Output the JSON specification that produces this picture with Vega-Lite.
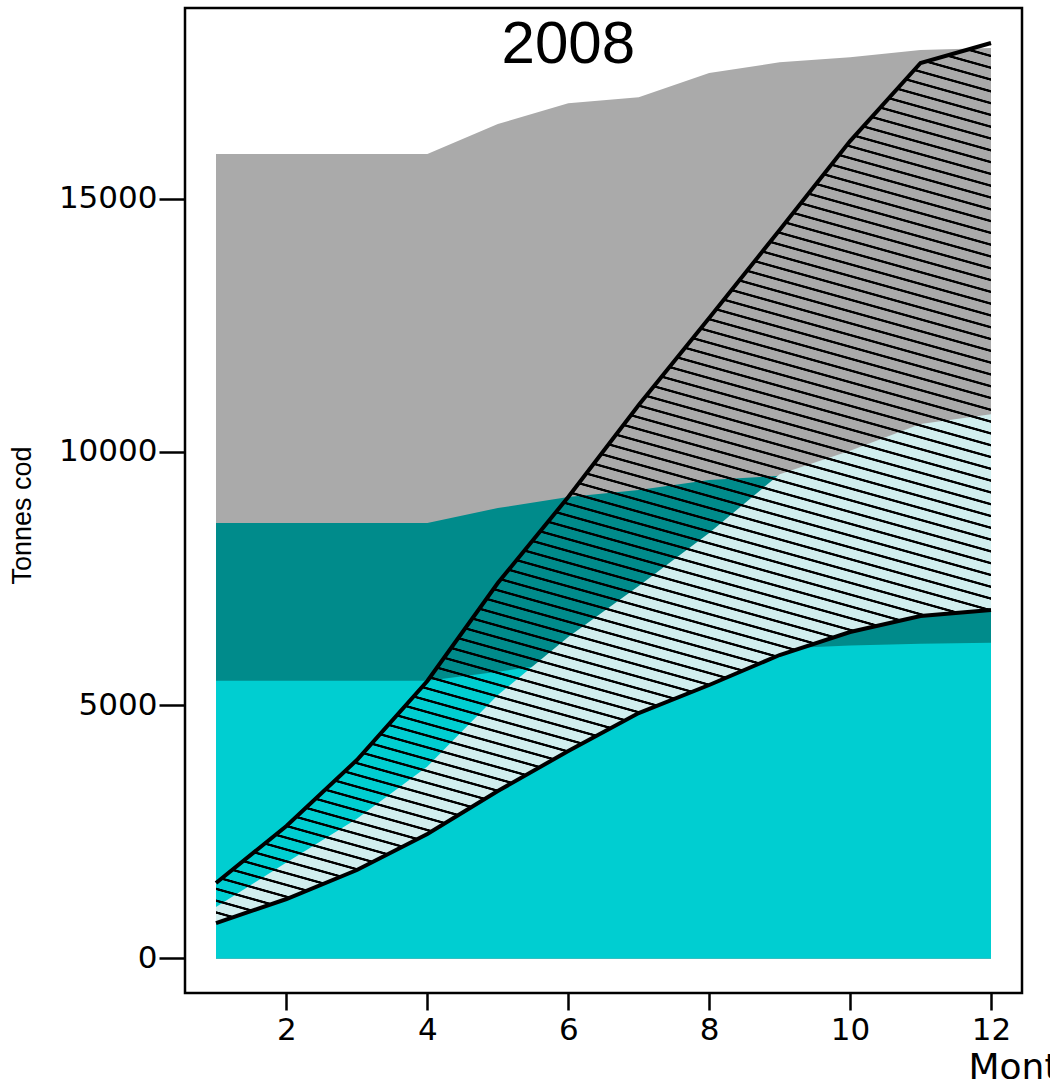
{
  "$schema": "https://vega.github.io/schema/vega-lite/v6.json",
  "autosize": {"type": "none"},
  "padding": {"left": 185, "top": 8, "right": 28, "bottom": 86},
  "width": 837,
  "height": 985,
  "background": "white",
  "data": {"values": [
    {"month": 1, "grey": 15880, "teal": 8595, "cyan": 5480, "mid": 1016, "lower": 700, "upper": 1490},
    {"month": 2, "grey": 15880, "teal": 8595, "cyan": 5480, "mid": 1895, "lower": 1174, "upper": 2615},
    {"month": 3, "grey": 15880, "teal": 8595, "cyan": 5480, "mid": 2760, "lower": 1747, "upper": 3918},
    {"month": 4, "grey": 15880, "teal": 8595, "cyan": 5480, "mid": 3790, "lower": 2457, "upper": 5477},
    {"month": 5, "grey": 16470, "teal": 8890, "cyan": 5660, "mid": 5200, "lower": 3306, "upper": 7411},
    {"month": 6, "grey": 16880, "teal": 9108, "cyan": 5860, "mid": 6345, "lower": 4095, "upper": 9108},
    {"month": 7, "grey": 17000, "teal": 9246, "cyan": 5980, "mid": 7350, "lower": 4845, "upper": 10924},
    {"month": 8, "grey": 17475, "teal": 9443, "cyan": 6060, "mid": 8400, "lower": 5398, "upper": 12641},
    {"month": 9, "grey": 17690, "teal": 9530, "cyan": 6120, "mid": 9560, "lower": 5990, "upper": 14378},
    {"month": 10, "grey": 17790, "teal": 9650, "cyan": 6180, "mid": 10020, "lower": 6444, "upper": 16134},
    {"month": 11, "grey": 17930, "teal": 9750, "cyan": 6210, "mid": 10550, "lower": 6760, "upper": 17674},
    {"month": 12, "grey": 17970, "teal": 9800, "cyan": 6230, "mid": 10740, "lower": 6878, "upper": 18069}
  ]},
  "encoding": {
    "x": {
      "field": "month", "type": "quantitative",
      "scale": {"domain": [0.56, 12.44], "nice": false, "zero": false},
      "axis": {
        "values": [2, 4, 6, 8, 10, 12], "format": "d", "grid": false, "domain": false,
        "labelFont": "DejaVu Sans", "labelFontSize": 31, "labelColor": "black", "labelPadding": 5,
        "labelFlush": false, "labelOverlap": false,
        "tickColor": "black", "tickWidth": 2.5, "tickSize": 17,
        "title": "Month", "titleFont": "DejaVu Sans", "titleFontSize": 36, "titleFontWeight": "normal",
        "titleColor": "black", "titleX": 783, "titleY": 85, "titleAlign": "left", "titleBaseline": "alphabetic"
      }
    }
  },
  "layer": [
    {
      "mark": {"type": "area", "fill": "#AAAAAA", "opacity": 1},
      "encoding": {
        "y": {
          "field": "grey", "type": "quantitative",
          "scale": {"domain": [-681, 18760], "nice": false, "zero": false},
          "axis": {
            "values": [0, 5000, 10000, 15000], "format": "d", "grid": false, "domain": false,
            "labelFont": "DejaVu Sans", "labelFontSize": 31, "labelColor": "black", "labelPadding": 2,
            "labelFlush": false, "labelOverlap": false,
            "tickColor": "black", "tickWidth": 2.5, "tickSize": 26,
            "title": "Tonnes cod", "titleFont": "Liberation Sans", "titleFontSize": 27, "titleFontWeight": "normal",
            "titleColor": "black", "titleX": -163, "titleY": 507, "titleAngle": -90, "titleAlign": "center", "titleBaseline": "middle"
          }
        },
        "y2": {"datum": 0}
      }
    },
    {
      "mark": {"type": "area", "fill": "#008B8B", "opacity": 1},
      "encoding": {
        "y": {"field": "teal", "type": "quantitative", "scale": {"domain": [-681, 18760], "nice": false, "zero": false}},
        "y2": {"datum": 0}
      }
    },
    {
      "mark": {"type": "area", "fill": "#00CED1", "opacity": 1},
      "encoding": {
        "y": {"field": "cyan", "type": "quantitative", "scale": {"domain": [-681, 18760], "nice": false, "zero": false}},
        "y2": {"datum": 0}
      }
    },
    {
      "mark": {"type": "area", "fill": "#D1EEEE", "opacity": 1},
      "encoding": {
        "y": {"field": "mid", "type": "quantitative", "scale": {"domain": [-681, 18760], "nice": false, "zero": false}},
        "y2": {"field": "lower"}
      }
    },
    {
      "mark": {"type": "area", "opacity": 1, "fill": {
        "gradient": "linear", "x1": 1, "y1": 0, "x2": 0.71023, "y2": 1.17513,
        "stops": [
          {"offset": 0, "color": "rgba(0,0,0,0)"}, {"offset": 0.000255, "color": "#000"}, {"offset": 0.001895, "color": "#000"}, {"offset": 0.002535, "color": "rgba(0,0,0,0)"},
          {"offset": 0.010368, "color": "rgba(0,0,0,0)"}, {"offset": 0.011008, "color": "#000"}, {"offset": 0.012648, "color": "#000"}, {"offset": 0.013288, "color": "rgba(0,0,0,0)"},
          {"offset": 0.021121, "color": "rgba(0,0,0,0)"}, {"offset": 0.021761, "color": "#000"}, {"offset": 0.023401, "color": "#000"}, {"offset": 0.024041, "color": "rgba(0,0,0,0)"},
          {"offset": 0.031873, "color": "rgba(0,0,0,0)"}, {"offset": 0.032513, "color": "#000"}, {"offset": 0.034153, "color": "#000"}, {"offset": 0.034793, "color": "rgba(0,0,0,0)"},
          {"offset": 0.042626, "color": "rgba(0,0,0,0)"}, {"offset": 0.043266, "color": "#000"}, {"offset": 0.044906, "color": "#000"}, {"offset": 0.045546, "color": "rgba(0,0,0,0)"},
          {"offset": 0.053379, "color": "rgba(0,0,0,0)"}, {"offset": 0.054019, "color": "#000"}, {"offset": 0.055659, "color": "#000"}, {"offset": 0.056299, "color": "rgba(0,0,0,0)"},
          {"offset": 0.064131, "color": "rgba(0,0,0,0)"}, {"offset": 0.064771, "color": "#000"}, {"offset": 0.066411, "color": "#000"}, {"offset": 0.067051, "color": "rgba(0,0,0,0)"},
          {"offset": 0.074884, "color": "rgba(0,0,0,0)"}, {"offset": 0.075524, "color": "#000"}, {"offset": 0.077164, "color": "#000"}, {"offset": 0.077804, "color": "rgba(0,0,0,0)"},
          {"offset": 0.085637, "color": "rgba(0,0,0,0)"}, {"offset": 0.086277, "color": "#000"}, {"offset": 0.087917, "color": "#000"}, {"offset": 0.088557, "color": "rgba(0,0,0,0)"},
          {"offset": 0.096389, "color": "rgba(0,0,0,0)"}, {"offset": 0.097029, "color": "#000"}, {"offset": 0.098669, "color": "#000"}, {"offset": 0.099309, "color": "rgba(0,0,0,0)"},
          {"offset": 0.107142, "color": "rgba(0,0,0,0)"}, {"offset": 0.107782, "color": "#000"}, {"offset": 0.109422, "color": "#000"}, {"offset": 0.110062, "color": "rgba(0,0,0,0)"},
          {"offset": 0.117895, "color": "rgba(0,0,0,0)"}, {"offset": 0.118535, "color": "#000"}, {"offset": 0.120175, "color": "#000"}, {"offset": 0.120815, "color": "rgba(0,0,0,0)"},
          {"offset": 0.128648, "color": "rgba(0,0,0,0)"}, {"offset": 0.129288, "color": "#000"}, {"offset": 0.130928, "color": "#000"}, {"offset": 0.131568, "color": "rgba(0,0,0,0)"},
          {"offset": 0.139400, "color": "rgba(0,0,0,0)"}, {"offset": 0.140040, "color": "#000"}, {"offset": 0.141680, "color": "#000"}, {"offset": 0.142320, "color": "rgba(0,0,0,0)"},
          {"offset": 0.150153, "color": "rgba(0,0,0,0)"}, {"offset": 0.150793, "color": "#000"}, {"offset": 0.152433, "color": "#000"}, {"offset": 0.153073, "color": "rgba(0,0,0,0)"},
          {"offset": 0.160906, "color": "rgba(0,0,0,0)"}, {"offset": 0.161546, "color": "#000"}, {"offset": 0.163186, "color": "#000"}, {"offset": 0.163826, "color": "rgba(0,0,0,0)"},
          {"offset": 0.171658, "color": "rgba(0,0,0,0)"}, {"offset": 0.172298, "color": "#000"}, {"offset": 0.173938, "color": "#000"}, {"offset": 0.174578, "color": "rgba(0,0,0,0)"},
          {"offset": 0.182411, "color": "rgba(0,0,0,0)"}, {"offset": 0.183051, "color": "#000"}, {"offset": 0.184691, "color": "#000"}, {"offset": 0.185331, "color": "rgba(0,0,0,0)"},
          {"offset": 0.193164, "color": "rgba(0,0,0,0)"}, {"offset": 0.193804, "color": "#000"}, {"offset": 0.195444, "color": "#000"}, {"offset": 0.196084, "color": "rgba(0,0,0,0)"},
          {"offset": 0.203916, "color": "rgba(0,0,0,0)"}, {"offset": 0.204556, "color": "#000"}, {"offset": 0.206196, "color": "#000"}, {"offset": 0.206836, "color": "rgba(0,0,0,0)"},
          {"offset": 0.214669, "color": "rgba(0,0,0,0)"}, {"offset": 0.215309, "color": "#000"}, {"offset": 0.216949, "color": "#000"}, {"offset": 0.217589, "color": "rgba(0,0,0,0)"},
          {"offset": 0.225422, "color": "rgba(0,0,0,0)"}, {"offset": 0.226062, "color": "#000"}, {"offset": 0.227702, "color": "#000"}, {"offset": 0.228342, "color": "rgba(0,0,0,0)"},
          {"offset": 0.236174, "color": "rgba(0,0,0,0)"}, {"offset": 0.236814, "color": "#000"}, {"offset": 0.238454, "color": "#000"}, {"offset": 0.239094, "color": "rgba(0,0,0,0)"},
          {"offset": 0.246927, "color": "rgba(0,0,0,0)"}, {"offset": 0.247567, "color": "#000"}, {"offset": 0.249207, "color": "#000"}, {"offset": 0.249847, "color": "rgba(0,0,0,0)"},
          {"offset": 0.257680, "color": "rgba(0,0,0,0)"}, {"offset": 0.258320, "color": "#000"}, {"offset": 0.259960, "color": "#000"}, {"offset": 0.260600, "color": "rgba(0,0,0,0)"},
          {"offset": 0.268432, "color": "rgba(0,0,0,0)"}, {"offset": 0.269072, "color": "#000"}, {"offset": 0.270712, "color": "#000"}, {"offset": 0.271352, "color": "rgba(0,0,0,0)"},
          {"offset": 0.279185, "color": "rgba(0,0,0,0)"}, {"offset": 0.279825, "color": "#000"}, {"offset": 0.281465, "color": "#000"}, {"offset": 0.282105, "color": "rgba(0,0,0,0)"},
          {"offset": 0.289938, "color": "rgba(0,0,0,0)"}, {"offset": 0.290578, "color": "#000"}, {"offset": 0.292218, "color": "#000"}, {"offset": 0.292858, "color": "rgba(0,0,0,0)"},
          {"offset": 0.300691, "color": "rgba(0,0,0,0)"}, {"offset": 0.301331, "color": "#000"}, {"offset": 0.302971, "color": "#000"}, {"offset": 0.303611, "color": "rgba(0,0,0,0)"},
          {"offset": 0.311443, "color": "rgba(0,0,0,0)"}, {"offset": 0.312083, "color": "#000"}, {"offset": 0.313723, "color": "#000"}, {"offset": 0.314363, "color": "rgba(0,0,0,0)"},
          {"offset": 0.322196, "color": "rgba(0,0,0,0)"}, {"offset": 0.322836, "color": "#000"}, {"offset": 0.324476, "color": "#000"}, {"offset": 0.325116, "color": "rgba(0,0,0,0)"},
          {"offset": 0.332949, "color": "rgba(0,0,0,0)"}, {"offset": 0.333589, "color": "#000"}, {"offset": 0.335229, "color": "#000"}, {"offset": 0.335869, "color": "rgba(0,0,0,0)"},
          {"offset": 0.343701, "color": "rgba(0,0,0,0)"}, {"offset": 0.344341, "color": "#000"}, {"offset": 0.345981, "color": "#000"}, {"offset": 0.346621, "color": "rgba(0,0,0,0)"},
          {"offset": 0.354454, "color": "rgba(0,0,0,0)"}, {"offset": 0.355094, "color": "#000"}, {"offset": 0.356734, "color": "#000"}, {"offset": 0.357374, "color": "rgba(0,0,0,0)"},
          {"offset": 0.365207, "color": "rgba(0,0,0,0)"}, {"offset": 0.365847, "color": "#000"}, {"offset": 0.367487, "color": "#000"}, {"offset": 0.368127, "color": "rgba(0,0,0,0)"},
          {"offset": 0.375959, "color": "rgba(0,0,0,0)"}, {"offset": 0.376599, "color": "#000"}, {"offset": 0.378239, "color": "#000"}, {"offset": 0.378879, "color": "rgba(0,0,0,0)"},
          {"offset": 0.386712, "color": "rgba(0,0,0,0)"}, {"offset": 0.387352, "color": "#000"}, {"offset": 0.388992, "color": "#000"}, {"offset": 0.389632, "color": "rgba(0,0,0,0)"},
          {"offset": 0.397465, "color": "rgba(0,0,0,0)"}, {"offset": 0.398105, "color": "#000"}, {"offset": 0.399745, "color": "#000"}, {"offset": 0.400385, "color": "rgba(0,0,0,0)"},
          {"offset": 0.408217, "color": "rgba(0,0,0,0)"}, {"offset": 0.408857, "color": "#000"}, {"offset": 0.410497, "color": "#000"}, {"offset": 0.411137, "color": "rgba(0,0,0,0)"},
          {"offset": 0.418970, "color": "rgba(0,0,0,0)"}, {"offset": 0.419610, "color": "#000"}, {"offset": 0.421250, "color": "#000"}, {"offset": 0.421890, "color": "rgba(0,0,0,0)"},
          {"offset": 0.429723, "color": "rgba(0,0,0,0)"}, {"offset": 0.430363, "color": "#000"}, {"offset": 0.432003, "color": "#000"}, {"offset": 0.432643, "color": "rgba(0,0,0,0)"},
          {"offset": 0.440475, "color": "rgba(0,0,0,0)"}, {"offset": 0.441115, "color": "#000"}, {"offset": 0.442755, "color": "#000"}, {"offset": 0.443395, "color": "rgba(0,0,0,0)"},
          {"offset": 0.451228, "color": "rgba(0,0,0,0)"}, {"offset": 0.451868, "color": "#000"}, {"offset": 0.453508, "color": "#000"}, {"offset": 0.454148, "color": "rgba(0,0,0,0)"},
          {"offset": 0.461981, "color": "rgba(0,0,0,0)"}, {"offset": 0.462621, "color": "#000"}, {"offset": 0.464261, "color": "#000"}, {"offset": 0.464901, "color": "rgba(0,0,0,0)"},
          {"offset": 0.472734, "color": "rgba(0,0,0,0)"}, {"offset": 0.473374, "color": "#000"}, {"offset": 0.475014, "color": "#000"}, {"offset": 0.475654, "color": "rgba(0,0,0,0)"},
          {"offset": 0.483486, "color": "rgba(0,0,0,0)"}, {"offset": 0.484126, "color": "#000"}, {"offset": 0.485766, "color": "#000"}, {"offset": 0.486406, "color": "rgba(0,0,0,0)"},
          {"offset": 0.494239, "color": "rgba(0,0,0,0)"}, {"offset": 0.494879, "color": "#000"}, {"offset": 0.496519, "color": "#000"}, {"offset": 0.497159, "color": "rgba(0,0,0,0)"},
          {"offset": 0.504992, "color": "rgba(0,0,0,0)"}, {"offset": 0.505632, "color": "#000"}, {"offset": 0.507272, "color": "#000"}, {"offset": 0.507912, "color": "rgba(0,0,0,0)"},
          {"offset": 0.515744, "color": "rgba(0,0,0,0)"}, {"offset": 0.516384, "color": "#000"}, {"offset": 0.518024, "color": "#000"}, {"offset": 0.518664, "color": "rgba(0,0,0,0)"},
          {"offset": 0.526497, "color": "rgba(0,0,0,0)"}, {"offset": 0.527137, "color": "#000"}, {"offset": 0.528777, "color": "#000"}, {"offset": 0.529417, "color": "rgba(0,0,0,0)"},
          {"offset": 0.537250, "color": "rgba(0,0,0,0)"}, {"offset": 0.537890, "color": "#000"}, {"offset": 0.539530, "color": "#000"}, {"offset": 0.540170, "color": "rgba(0,0,0,0)"},
          {"offset": 0.548002, "color": "rgba(0,0,0,0)"}, {"offset": 0.548642, "color": "#000"}, {"offset": 0.550282, "color": "#000"}, {"offset": 0.550922, "color": "rgba(0,0,0,0)"},
          {"offset": 0.558755, "color": "rgba(0,0,0,0)"}, {"offset": 0.559395, "color": "#000"}, {"offset": 0.561035, "color": "#000"}, {"offset": 0.561675, "color": "rgba(0,0,0,0)"},
          {"offset": 0.569508, "color": "rgba(0,0,0,0)"}, {"offset": 0.570148, "color": "#000"}, {"offset": 0.571788, "color": "#000"}, {"offset": 0.572428, "color": "rgba(0,0,0,0)"},
          {"offset": 0.580260, "color": "rgba(0,0,0,0)"}, {"offset": 0.580900, "color": "#000"}, {"offset": 0.582540, "color": "#000"}, {"offset": 0.583180, "color": "rgba(0,0,0,0)"},
          {"offset": 0.591013, "color": "rgba(0,0,0,0)"}, {"offset": 0.591653, "color": "#000"}, {"offset": 0.593293, "color": "#000"}, {"offset": 0.593933, "color": "rgba(0,0,0,0)"},
          {"offset": 0.601766, "color": "rgba(0,0,0,0)"}, {"offset": 0.602406, "color": "#000"}, {"offset": 0.604046, "color": "#000"}, {"offset": 0.604686, "color": "rgba(0,0,0,0)"},
          {"offset": 0.612518, "color": "rgba(0,0,0,0)"}, {"offset": 0.613158, "color": "#000"}, {"offset": 0.614798, "color": "#000"}, {"offset": 0.615438, "color": "rgba(0,0,0,0)"},
          {"offset": 0.623271, "color": "rgba(0,0,0,0)"}, {"offset": 0.623911, "color": "#000"}, {"offset": 0.625551, "color": "#000"}, {"offset": 0.626191, "color": "rgba(0,0,0,0)"},
          {"offset": 0.634024, "color": "rgba(0,0,0,0)"}, {"offset": 0.634664, "color": "#000"}, {"offset": 0.636304, "color": "#000"}, {"offset": 0.636944, "color": "rgba(0,0,0,0)"},
          {"offset": 0.644777, "color": "rgba(0,0,0,0)"}, {"offset": 0.645417, "color": "#000"}, {"offset": 0.647057, "color": "#000"}, {"offset": 0.647697, "color": "rgba(0,0,0,0)"},
          {"offset": 0.655529, "color": "rgba(0,0,0,0)"}, {"offset": 0.656169, "color": "#000"}, {"offset": 0.657809, "color": "#000"}, {"offset": 0.658449, "color": "rgba(0,0,0,0)"},
          {"offset": 0.666282, "color": "rgba(0,0,0,0)"}, {"offset": 0.666922, "color": "#000"}, {"offset": 0.668562, "color": "#000"}, {"offset": 0.669202, "color": "rgba(0,0,0,0)"},
          {"offset": 0.677035, "color": "rgba(0,0,0,0)"}, {"offset": 0.677675, "color": "#000"}, {"offset": 0.679315, "color": "#000"}, {"offset": 0.679955, "color": "rgba(0,0,0,0)"},
          {"offset": 0.687787, "color": "rgba(0,0,0,0)"}, {"offset": 0.688427, "color": "#000"}, {"offset": 0.690067, "color": "#000"}, {"offset": 0.690707, "color": "rgba(0,0,0,0)"},
          {"offset": 0.698540, "color": "rgba(0,0,0,0)"}, {"offset": 0.699180, "color": "#000"}, {"offset": 0.700820, "color": "#000"}, {"offset": 0.701460, "color": "rgba(0,0,0,0)"},
          {"offset": 0.709293, "color": "rgba(0,0,0,0)"}, {"offset": 0.709933, "color": "#000"}, {"offset": 0.711573, "color": "#000"}, {"offset": 0.712213, "color": "rgba(0,0,0,0)"},
          {"offset": 0.720045, "color": "rgba(0,0,0,0)"}, {"offset": 0.720685, "color": "#000"}, {"offset": 0.722325, "color": "#000"}, {"offset": 0.722965, "color": "rgba(0,0,0,0)"},
          {"offset": 0.730798, "color": "rgba(0,0,0,0)"}, {"offset": 0.731438, "color": "#000"}, {"offset": 0.733078, "color": "#000"}, {"offset": 0.733718, "color": "rgba(0,0,0,0)"},
          {"offset": 0.741551, "color": "rgba(0,0,0,0)"}, {"offset": 0.742191, "color": "#000"}, {"offset": 0.743831, "color": "#000"}, {"offset": 0.744471, "color": "rgba(0,0,0,0)"},
          {"offset": 0.752303, "color": "rgba(0,0,0,0)"}, {"offset": 0.752943, "color": "#000"}, {"offset": 0.754583, "color": "#000"}, {"offset": 0.755223, "color": "rgba(0,0,0,0)"},
          {"offset": 0.763056, "color": "rgba(0,0,0,0)"}, {"offset": 0.763696, "color": "#000"}, {"offset": 0.765336, "color": "#000"}, {"offset": 0.765976, "color": "rgba(0,0,0,0)"},
          {"offset": 0.773809, "color": "rgba(0,0,0,0)"}, {"offset": 0.774449, "color": "#000"}, {"offset": 0.776089, "color": "#000"}, {"offset": 0.776729, "color": "rgba(0,0,0,0)"},
          {"offset": 0.784562, "color": "rgba(0,0,0,0)"}, {"offset": 0.785202, "color": "#000"}, {"offset": 0.786842, "color": "#000"}, {"offset": 0.787482, "color": "rgba(0,0,0,0)"},
          {"offset": 0.795314, "color": "rgba(0,0,0,0)"}, {"offset": 0.795954, "color": "#000"}, {"offset": 0.797594, "color": "#000"}, {"offset": 0.798234, "color": "rgba(0,0,0,0)"},
          {"offset": 0.806067, "color": "rgba(0,0,0,0)"}, {"offset": 0.806707, "color": "#000"}, {"offset": 0.808347, "color": "#000"}, {"offset": 0.808987, "color": "rgba(0,0,0,0)"},
          {"offset": 0.816820, "color": "rgba(0,0,0,0)"}, {"offset": 0.817460, "color": "#000"}, {"offset": 0.819100, "color": "#000"}, {"offset": 0.819740, "color": "rgba(0,0,0,0)"},
          {"offset": 0.827572, "color": "rgba(0,0,0,0)"}, {"offset": 0.828212, "color": "#000"}, {"offset": 0.829852, "color": "#000"}, {"offset": 0.830492, "color": "rgba(0,0,0,0)"},
          {"offset": 0.838325, "color": "rgba(0,0,0,0)"}, {"offset": 0.838965, "color": "#000"}, {"offset": 0.840605, "color": "#000"}, {"offset": 0.841245, "color": "rgba(0,0,0,0)"},
          {"offset": 0.849078, "color": "rgba(0,0,0,0)"}, {"offset": 0.849718, "color": "#000"}, {"offset": 0.851358, "color": "#000"}, {"offset": 0.851998, "color": "rgba(0,0,0,0)"},
          {"offset": 0.859830, "color": "rgba(0,0,0,0)"}, {"offset": 0.860470, "color": "#000"}, {"offset": 0.862110, "color": "#000"}, {"offset": 0.862750, "color": "rgba(0,0,0,0)"},
          {"offset": 0.870583, "color": "rgba(0,0,0,0)"}, {"offset": 0.871223, "color": "#000"}, {"offset": 0.872863, "color": "#000"}, {"offset": 0.873503, "color": "rgba(0,0,0,0)"},
          {"offset": 0.881336, "color": "rgba(0,0,0,0)"}, {"offset": 0.881976, "color": "#000"}, {"offset": 0.883616, "color": "#000"}, {"offset": 0.884256, "color": "rgba(0,0,0,0)"},
          {"offset": 0.892088, "color": "rgba(0,0,0,0)"}, {"offset": 0.892728, "color": "#000"}, {"offset": 0.894368, "color": "#000"}, {"offset": 0.895008, "color": "rgba(0,0,0,0)"},
          {"offset": 0.902841, "color": "rgba(0,0,0,0)"}, {"offset": 0.903481, "color": "#000"}, {"offset": 0.905121, "color": "#000"}, {"offset": 0.905761, "color": "rgba(0,0,0,0)"},
          {"offset": 0.913594, "color": "rgba(0,0,0,0)"}, {"offset": 0.914234, "color": "#000"}, {"offset": 0.915874, "color": "#000"}, {"offset": 0.916514, "color": "rgba(0,0,0,0)"},
          {"offset": 0.924346, "color": "rgba(0,0,0,0)"}, {"offset": 0.924986, "color": "#000"}, {"offset": 0.926626, "color": "#000"}, {"offset": 0.927266, "color": "rgba(0,0,0,0)"},
          {"offset": 0.935099, "color": "rgba(0,0,0,0)"}, {"offset": 0.935739, "color": "#000"}, {"offset": 0.937379, "color": "#000"}, {"offset": 0.938019, "color": "rgba(0,0,0,0)"},
          {"offset": 0.945852, "color": "rgba(0,0,0,0)"}, {"offset": 0.946492, "color": "#000"}, {"offset": 0.948132, "color": "#000"}, {"offset": 0.948772, "color": "rgba(0,0,0,0)"},
          {"offset": 0.956605, "color": "rgba(0,0,0,0)"}, {"offset": 0.957245, "color": "#000"}, {"offset": 0.958885, "color": "#000"}, {"offset": 0.959525, "color": "rgba(0,0,0,0)"},
          {"offset": 0.967357, "color": "rgba(0,0,0,0)"}, {"offset": 0.967997, "color": "#000"}, {"offset": 0.969637, "color": "#000"}, {"offset": 0.970277, "color": "rgba(0,0,0,0)"},
          {"offset": 0.978110, "color": "rgba(0,0,0,0)"}, {"offset": 0.978750, "color": "#000"}, {"offset": 0.980390, "color": "#000"}, {"offset": 0.981030, "color": "rgba(0,0,0,0)"},
          {"offset": 0.988863, "color": "rgba(0,0,0,0)"}, {"offset": 0.989503, "color": "#000"}, {"offset": 0.991143, "color": "#000"}, {"offset": 0.991783, "color": "rgba(0,0,0,0)"},
          {"offset": 1, "color": "rgba(0,0,0,0)"}
        ]
      }},
      "encoding": {
        "y": {"field": "upper", "type": "quantitative", "scale": {"domain": [-681, 18760], "nice": false, "zero": false}},
        "y2": {"field": "lower"}
      }
    },
    {
      "mark": {"type": "line", "color": "black", "strokeWidth": 4},
      "encoding": {
        "y": {"field": "lower", "type": "quantitative", "scale": {"domain": [-681, 18760], "nice": false, "zero": false}}
      }
    },
    {
      "mark": {"type": "line", "color": "black", "strokeWidth": 4},
      "encoding": {
        "y": {"field": "upper", "type": "quantitative", "scale": {"domain": [-681, 18760], "nice": false, "zero": false}}
      }
    },
    {
      "transform": [{"filter": {"field": "month", "equal": 6}}],
      "mark": {"type": "text", "text": "2008", "font": "Liberation Sans", "fontSize": 60, "fill": "black", "align": "center", "baseline": "alphabetic"},
      "encoding": {
        "y": {"datum": 17675, "type": "quantitative", "scale": {"domain": [-681, 18760], "nice": false, "zero": false}}
      }
    }
  ],
  "config": {
    "view": {"stroke": "black", "strokeWidth": 2.5},
    "font": "DejaVu Sans"
  }
}
